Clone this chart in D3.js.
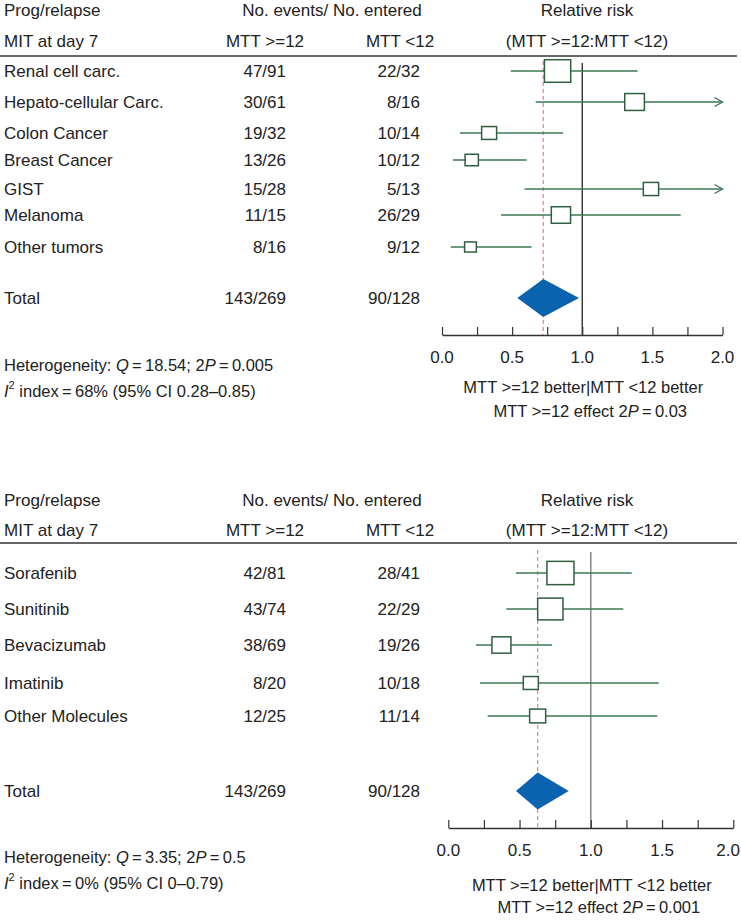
<!DOCTYPE html>
<html><head><meta charset="utf-8">
<script src="https://cdn.jsdelivr.net/npm/d3@7"></script>
<style>
html,body{margin:0;padding:0;background:#fff;}
text{font-family:"Liberation Sans",Arial,sans-serif;font-size:17px;fill:#222;}
text.foot{font-size:16.5px;}
</style></head>
<body>
<svg id="chart" width="741" height="921"></svg>
<script>
// ---------- Data: panel 1 (tumour type) ----------
const topCategories = ["Renal cell carc.","Hepato-cellular Carc.","Colon Cancer","Breast Cancer","GIST","Melanoma","Other tumors"];
const topEventsHigh = ["47/91","30/61","19/32","13/26","15/28","11/15","8/16"];
const topEventsLow  = ["22/32","8/16","10/14","10/12","5/13","26/29","9/12"];
const topRR   = [0.824,1.373,0.336,0.212,1.49,0.848,0.203];
const topLo   = [0.49,0.668,0.128,0.078,0.589,0.421,0.062];
const topHi   = [1.395,2.8,0.863,0.604,3.8,1.702,0.639];
const topWeight = [31.1,17.4,10.1,8.0,10.5,16.7,6.2];
const topTotal = {label:"Total", high:"143/269", low:"90/128", rr:0.722, lo:0.537, hi:0.977};
const topStats = {q:"18.54", p:"0.005", i2:"68%", ci:"0.28–0.85", effectP:"0.03"};

// ---------- Data: panel 2 (molecule) ----------
const botCategories = ["Sorafenib","Sunitinib","Bevacizumab","Imatinib","Other Molecules"];
const botEventsHigh = ["42/81","43/74","38/69","8/20","12/25"];
const botEventsLow  = ["28/41","22/29","19/26","10/18","11/14"];
const botRR   = [0.787,0.716,0.373,0.579,0.627];
const botLo   = [0.475,0.407,0.194,0.222,0.276];
const botHi   = [1.287,1.228,0.728,1.476,1.467];
const botWeight = [33.0,28.9,16.3,10.2,11.6];
const botTotal = {label:"Total", high:"143/269", low:"90/128", rr:0.627, lo:0.475, hi:0.845};
const botStats = {q:"3.35", p:"0.5", i2:"0%", ci:"0–0.79", effectP:"0.001"};

const tickValues = [0,0.25,0.5,0.75,1,1.25,1.5,1.75,2];
const tickLabels = ["0.0","","0.5","","1.0","","1.5","","2.0"];

const svg = d3.select("#chart");
const boxScale = d3.scaleSqrt().domain([0,100]).range([0,47.1]);

function panel(cfg){
  const g = svg.append("g");
  const x = d3.scaleLinear().domain([0,2]).range(cfg.xr);
  // headers
  g.append("text").attr("x",4).attr("y",cfg.h1).attr("dominant-baseline","central").text("Prog/relapse");
  g.append("text").attr("x",332).attr("y",cfg.h1).attr("text-anchor","middle").attr("dominant-baseline","central").text("No. events/ No. entered");
  g.append("text").attr("x",587).attr("y",cfg.h1).attr("text-anchor","middle").attr("dominant-baseline","central").text("Relative risk");
  g.append("text").attr("x",4).attr("y",cfg.h2).attr("dominant-baseline","central").text("MIT at day 7");
  g.append("text").attr("x",265).attr("y",cfg.h2).attr("text-anchor","middle").attr("dominant-baseline","central").text("MTT >=12");
  g.append("text").attr("x",400).attr("y",cfg.h2).attr("text-anchor","middle").attr("dominant-baseline","central").text("MTT <12");
  g.append("text").attr("x",587).attr("y",cfg.h2).attr("text-anchor","middle").attr("dominant-baseline","central").text("(MTT >=12:MTT <12)");
  g.append("line").attr("x1",0).attr("x2",737).attr("y1",cfg.hline).attr("y2",cfg.hline).attr("stroke","#333").attr("stroke-width",1.3);

  // reference lines
  g.append("line").attr("x1",x(1)).attr("x2",x(1)).attr("y1",cfg.vTop).attr("y2",cfg.axisY)
    .attr("stroke",cfg.refColor).attr("stroke-width",1.3);
  g.append("line").attr("x1",x(cfg.total.rr)).attr("x2",x(cfg.total.rr)).attr("y1",cfg.vTop-2).attr("y2",cfg.axisY)
    .attr("stroke","#e87aa3").attr("stroke-width",1.2).attr("stroke-dasharray","4,3");

  // rows
  cfg.cats.forEach((c,i)=>{
    const y = cfg.rowY[i];
    g.append("text").attr("x",4).attr("y",y).attr("dominant-baseline","central").text(c);
    g.append("text").attr("x",286).attr("y",y).attr("text-anchor","end").attr("dominant-baseline","central").text(cfg.hiEv[i]);
    g.append("text").attr("x",420).attr("y",y).attr("text-anchor","end").attr("dominant-baseline","central").text(cfg.loEv[i]);
    const over = cfg.hi[i] > 2;
    const xe = x(Math.min(cfg.hi[i],2));
    g.append("line").attr("x1",x(cfg.lo[i])).attr("x2",xe).attr("y1",y).attr("y2",y)
      .attr("stroke","#3d7a55").attr("stroke-width",1.4);
    if(over){
      g.append("path").attr("d",`M${xe-8},${y-4.5}L${xe},${y}L${xe-8},${y+4.5}`)
        .attr("fill","none").attr("stroke","#3d7a55").attr("stroke-width",1.4);
    }
    const w = boxScale(cfg.w[i]), h = w*0.86;
    g.append("rect").attr("x",x(cfg.rr[i])-w/2).attr("y",y-h/2).attr("width",w).attr("height",h)
      .attr("fill","#fff").attr("stroke","#2f5e40").attr("stroke-width",1.5);
  });

  // total
  const t = cfg.total, ty = cfg.totalY;
  g.append("text").attr("x",4).attr("y",ty).attr("dominant-baseline","central").text(t.label);
  g.append("text").attr("x",286).attr("y",ty).attr("text-anchor","end").attr("dominant-baseline","central").text(t.high);
  g.append("text").attr("x",420).attr("y",ty).attr("text-anchor","end").attr("dominant-baseline","central").text(t.low);
  g.append("path").attr("d",`M${x(t.lo)},${ty}L${x(t.rr)},${ty-cfg.dh}L${x(t.hi)},${ty}L${x(t.rr)},${ty+cfg.dh}Z`)
    .attr("fill","#0b63b0");

  // axis
  const axis = d3.axisTop(x).tickValues(tickValues).tickFormat("").tickSize(8).tickSizeOuter(0);
  const ag = g.append("g").attr("transform",`translate(0,${cfg.axisY})`).call(axis);
  ag.select(".domain").attr("stroke","#333").attr("stroke-width",1.3);
  ag.selectAll(".tick line").attr("stroke","#333").attr("stroke-width",1.2);
  tickValues.forEach((v,i)=>{
    if(!tickLabels[i]) return;
    const tx = g.append("text").attr("x",x(v)).attr("y",cfg.axisY+22).attr("text-anchor","middle")
      .attr("dominant-baseline","central").text(tickLabels[i]);
    const bb = tx.node().getBBox();
    if(bb.x + bb.width > 740) tx.attr("text-anchor","end").attr("x",740);
  });

  // footer
  const s = cfg.stats;
  const f1 = g.append("text").attr("class","foot").attr("x",4).attr("y",cfg.f1).attr("dominant-baseline","central");
  f1.append("tspan").text("Heterogeneity: ");
  f1.append("tspan").attr("font-style","italic").text("Q");
  f1.append("tspan").text("\u2009=\u2009"+s.q+"; 2");
  f1.append("tspan").attr("font-style","italic").text("P");
  f1.append("tspan").text("\u2009=\u2009"+s.p);
  const f2 = g.append("text").attr("class","foot").attr("x",4).attr("y",cfg.f2).attr("dominant-baseline","central");
  f2.append("tspan").attr("font-style","italic").text("I");
  f2.append("tspan").attr("font-size","11px").attr("dy",-6).text("2");
  f2.append("tspan").attr("dy",6).text(" index\u2009=\u2009"+s.i2+" (95% CI "+s.ci+")");
  g.append("text").attr("class","foot").attr("x",x(1)+1).attr("y",cfg.r1).attr("text-anchor","middle").attr("dominant-baseline","central")
    .text("MTT >=12 better|MTT <12 better");
  const r2 = g.append("text").attr("class","foot").attr("x",x(1)+8).attr("y",cfg.r2).attr("text-anchor","middle").attr("dominant-baseline","central");
  r2.append("tspan").text("MTT >=12 effect 2");
  r2.append("tspan").attr("font-style","italic").text("P");
  r2.append("tspan").text("\u2009=\u2009"+s.effectP);
}

panel({xr:[442,722.5], h1:10, h2:41, hline:56, vTop:63, axisY:335,
  rowY:[71,102,133,160,189,215,247], totalY:298, dh:19, refColor:"#222",
  cats:topCategories, hiEv:topEventsHigh, loEv:topEventsLow, rr:topRR, lo:topLo, hi:topHi, w:topWeight,
  total:topTotal, stats:topStats, f1:365, f2:391, r1:387, r2:411});

panel({xr:[448.3,733.3], h1:500, h2:530, hline:543, vTop:552, axisY:828,
  rowY:[573,609,645,683,716], totalY:791, dh:18.5, refColor:"#777",
  cats:botCategories, hiEv:botEventsHigh, loEv:botEventsLow, rr:botRR, lo:botLo, hi:botHi, w:botWeight,
  total:botTotal, stats:botStats, f1:857, f2:883, r1:885, r2:907});
</script>
</body></html>
